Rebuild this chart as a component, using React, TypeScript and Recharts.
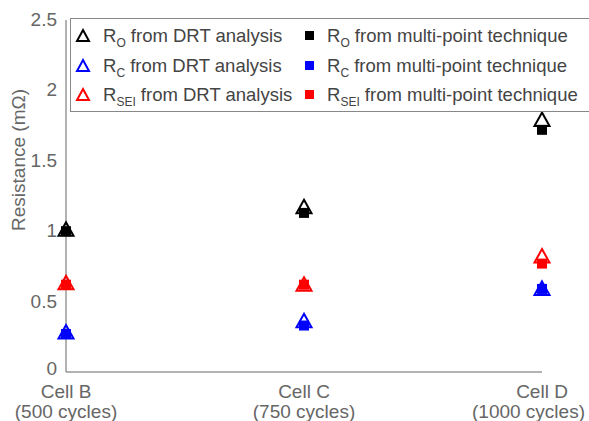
import React from "react"
import { ScatterChart, Scatter, XAxis, YAxis, Label } from "recharts"

const cells = ["Cell B", "Cell C", "Cell D"]
const cycles = ["(500 cycles)", "(750 cycles)", "(1000 cycles)"]
const yTicks = [0, 0.5, 1, 1.5, 2, 2.5]

// values in mOhm
const roDrt = [1.01, 1.17, 1.79]
const roMulti = [1.0, 1.13, 1.72]
const rcDrt = [0.28, 0.36, 0.59]
const rcMulti = [0.27, 0.33, 0.59]
const rseiDrt = [0.63, 0.62, 0.82]
const rseiMulti = [0.62, 0.62, 0.77]

const toPoints = (vals: number[]) => vals.map((v, i) => ({ x: i, y: v }))

const gray = "#666"
const font = "Liberation Sans, Arial, sans-serif"

const triangle = (color: string) => (props: any) => {
  const { cx, cy } = props
  const s = 7.5
  return (
    <path
      d={`M${cx},${cy - s} L${cx + s},${cy + s * 0.8} L${cx - s},${cy + s * 0.8} Z`}
      fill="none"
      stroke={color}
      strokeWidth={2}
    />
  )
}

const square = (color: string) => (props: any) => {
  const { cx, cy } = props
  return <rect x={cx - 5} y={cy - 5} width={10} height={10} fill={color} />
}

const CellTick = (props: any) => {
  const { x, y, payload } = props
  const i = payload.value
  // the last label sits a bit to the left in the original so it fits the frame
  const last = i === cells.length - 1
  return (
    <g transform={`translate(${x},${y})`}>
      <text textAnchor="middle" fill={gray} fontSize={19} fontFamily={font} x={0} y={18}>
        {cells[i]}
      </text>
      <text
        textAnchor={last ? "end" : "middle"}
        fill={gray}
        fontSize={19}
        fontFamily={font}
        x={last ? 43 : 0}
        y={38}
      >
        {cycles[i]}
      </text>
    </g>
  )
}

const ValueTick = (props: any) => {
  const { x, y, payload } = props
  // zero is nudged up so it clears the category label below
  const dy = payload.value === 0 ? -3 : 0
  return (
    <text x={x} y={y + dy} dy={6} textAnchor="end" fill={gray} fontSize={19} fontFamily={font}>
      {payload.value}
    </text>
  )
}

const legendRows = [
  { sub: "O", color: "#000" },
  { sub: "C", color: "#0000ff" },
  { sub: "SEI", color: "#ff0000" },
]
const rowCenters = [17, 47, 76]

const LegendBox = () => (
  <div
    style={{
      position: "absolute",
      left: 70,
      top: 18,
      width: 530,
      height: 92,
      border: "1px solid #888",
      background: "#fff",
      fontFamily: font,
      fontSize: 18.5,
      color: "#444",
      lineHeight: "21px",
      overflow: "hidden",
    }}
  >
    {legendRows.map((r, k) => (
      <React.Fragment key={r.sub}>
        <svg style={{ position: "absolute", left: 2, top: rowCenters[k] - 9 }} width={20} height={18}>
          <path d="M10,3 L16,14 L4,14 Z" fill="none" stroke={r.color} strokeWidth={2} />
        </svg>
        <div style={{ position: "absolute", left: 32, top: rowCenters[k] - 11, whiteSpace: "nowrap" }}>
          R<sub style={{ fontSize: 12, lineHeight: 0 }}>{r.sub}</sub> from DRT analysis
        </div>
        <svg style={{ position: "absolute", left: 233, top: rowCenters[k] - 6 }} width={12} height={12}>
          <rect x={1} y={1} width={9} height={9} fill={r.color} />
        </svg>
        <div style={{ position: "absolute", left: 256, top: rowCenters[k] - 11, whiteSpace: "nowrap" }}>
          R<sub style={{ fontSize: 12, lineHeight: 0 }}>{r.sub}</sub> from multi-point technique
        </div>
      </React.Fragment>
    ))}
  </div>
)

export default function App() {
  return (
    <div style={{ position: "absolute", left: 0, top: 0, width: 589, height: 421, background: "#fff", overflow: "hidden" }}>
      <ScatterChart width={589} height={421} margin={{ top: 20, right: 47, left: 0, bottom: 0 }}>
        <XAxis
          type="number"
          dataKey="x"
          domain={[0, 2]}
          ticks={[0, 1, 2]}
          tick={<CellTick />}
          tickLine={false}
          stroke={gray}
          height={49}
          interval={0}
        />
        <YAxis
          type="number"
          dataKey="y"
          domain={[0, 2.5]}
          ticks={yTicks}
          tickLine={false}
          stroke={gray}
          width={66}
          tick={<ValueTick />}
          tickMargin={3}
        >
          <Label
            content={() => (
              <text
                transform="translate(25,160) rotate(-90)"
                textAnchor="middle"
                fill={gray}
                fontSize={19}
                fontFamily={font}
              >
                Resistance (mΩ)
              </text>
            )}
          />
        </YAxis>
        <Scatter data={toPoints(roMulti)} fill="#000" shape={square("#000")} isAnimationActive={false} />
        <Scatter data={toPoints(rcMulti)} fill="#0000ff" shape={square("#0000ff")} isAnimationActive={false} />
        <Scatter data={toPoints(rseiMulti)} fill="#ff0000" shape={square("#ff0000")} isAnimationActive={false} />
        <Scatter data={toPoints(roDrt)} fill="none" shape={triangle("#000")} isAnimationActive={false} />
        <Scatter data={toPoints(rcDrt)} fill="none" shape={triangle("#0000ff")} isAnimationActive={false} />
        <Scatter data={toPoints(rseiDrt)} fill="none" shape={triangle("#ff0000")} isAnimationActive={false} />
      </ScatterChart>
      <LegendBox />
    </div>
  )
}
